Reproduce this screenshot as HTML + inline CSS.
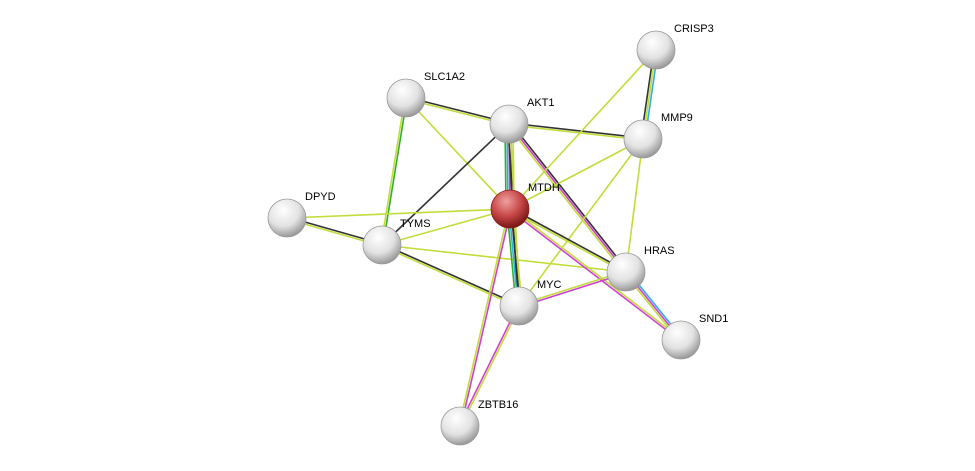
<!DOCTYPE html>
<html><head><meta charset="utf-8"><style>
body{margin:0;background:#fff;}
svg{display:block;}
text{font-family:"Liberation Sans",Arial,sans-serif;font-size:11px;fill:#000;}
</style></head><body>
<svg id="s" width="975" height="471" xmlns="http://www.w3.org/2000/svg">
<defs>
<radialGradient id="g" cx="40%" cy="30%" r="70%">
<stop offset="0" stop-color="#ffffff"/><stop offset="0.6" stop-color="#e2e2e2"/><stop offset="1" stop-color="#9a9a9a"/>
</radialGradient>
<radialGradient id="r" cx="40%" cy="30%" r="70%">
<stop offset="0" stop-color="#f0a0a0"/><stop offset="0.55" stop-color="#c84848"/><stop offset="1" stop-color="#7a1515"/>
</radialGradient>
</defs>
<g id="edges"></g><g id="nodes"></g>
</svg>
<script>
var N={CRISP3:[656,50],SLC1A2:[406,98],AKT1:[509,124],MMP9:[643,139],DPYD:[287,218],MTDH:[510,209],TYMS:[382,245],HRAS:[626,272],MYC:[519,306],SND1:[681,340],ZBTB16:[460,426]};
var Y="#c2dc3a",K="#333",M="#d040d0",B="#30b0e0",G="#30b030";
var E=[["SLC1A2","AKT1",[K,Y]],["SLC1A2","TYMS",[G,Y]],["SLC1A2","MTDH",[Y]],["AKT1","MMP9",[K,Y]],
["AKT1","MTDH",[Y,K,M,B,G]],["AKT1","TYMS",[K]],["AKT1","HRAS",[K,M,Y]],["AKT1","MYC",[Y,K]],
["CRISP3","MMP9",[B,Y,K]],["CRISP3","MTDH",[Y]],["MMP9","MTDH",[Y]],["MMP9","HRAS",[Y]],["MMP9","MYC",[Y]],
["DPYD","TYMS",[K,Y]],["DPYD","MTDH",[Y]],["TYMS","MTDH",[Y]],["TYMS","HRAS",[Y]],["TYMS","MYC",[K,Y]],
["MTDH","HRAS",[K,Y]],["MTDH","MYC",[Y,K,B,G]],["MTDH","SND1",[Y,M]],["MTDH","ZBTB16",[M,Y]],
["HRAS","MYC",[M,Y]],["HRAS","SND1",[B,M,Y]],["MYC","ZBTB16",[Y,M]]];
var eg=document.getElementById("edges"),ng=document.getElementById("nodes"),ns="http://www.w3.org/2000/svg";
E.forEach(function(e){var a=N[e[0]],b=N[e[1]],dx=b[0]-a[0],dy=b[1]-a[1],l=Math.hypot(dx,dy),px=-dy/l,py=dx/l,n=e[2].length;
e[2].forEach(function(c,i){var o=(i-(n-1)/2)*2;var L=document.createElementNS(ns,"line");
L.setAttribute("x1",a[0]+px*o);L.setAttribute("y1",a[1]+py*o);L.setAttribute("x2",b[0]+px*o);L.setAttribute("y2",b[1]+py*o);
L.setAttribute("stroke",c);L.setAttribute("stroke-width",1.6);eg.appendChild(L);});});
for(var k in N){var p=N[k];var C=document.createElementNS(ns,"circle");C.setAttribute("cx",p[0]);C.setAttribute("cy",p[1]);C.setAttribute("r",19);
C.setAttribute("fill",k=="MTDH"?"url(#r)":"url(#g)");C.setAttribute("stroke",k=="MTDH"?"#8a2020":"#999");C.setAttribute("stroke-width",0.8);ng.appendChild(C);
var T=document.createElementNS(ns,"text");T.setAttribute("x",p[0]+18);T.setAttribute("y",p[1]-18);T.textContent=k;ng.appendChild(T);}
</script>
</body></html>
